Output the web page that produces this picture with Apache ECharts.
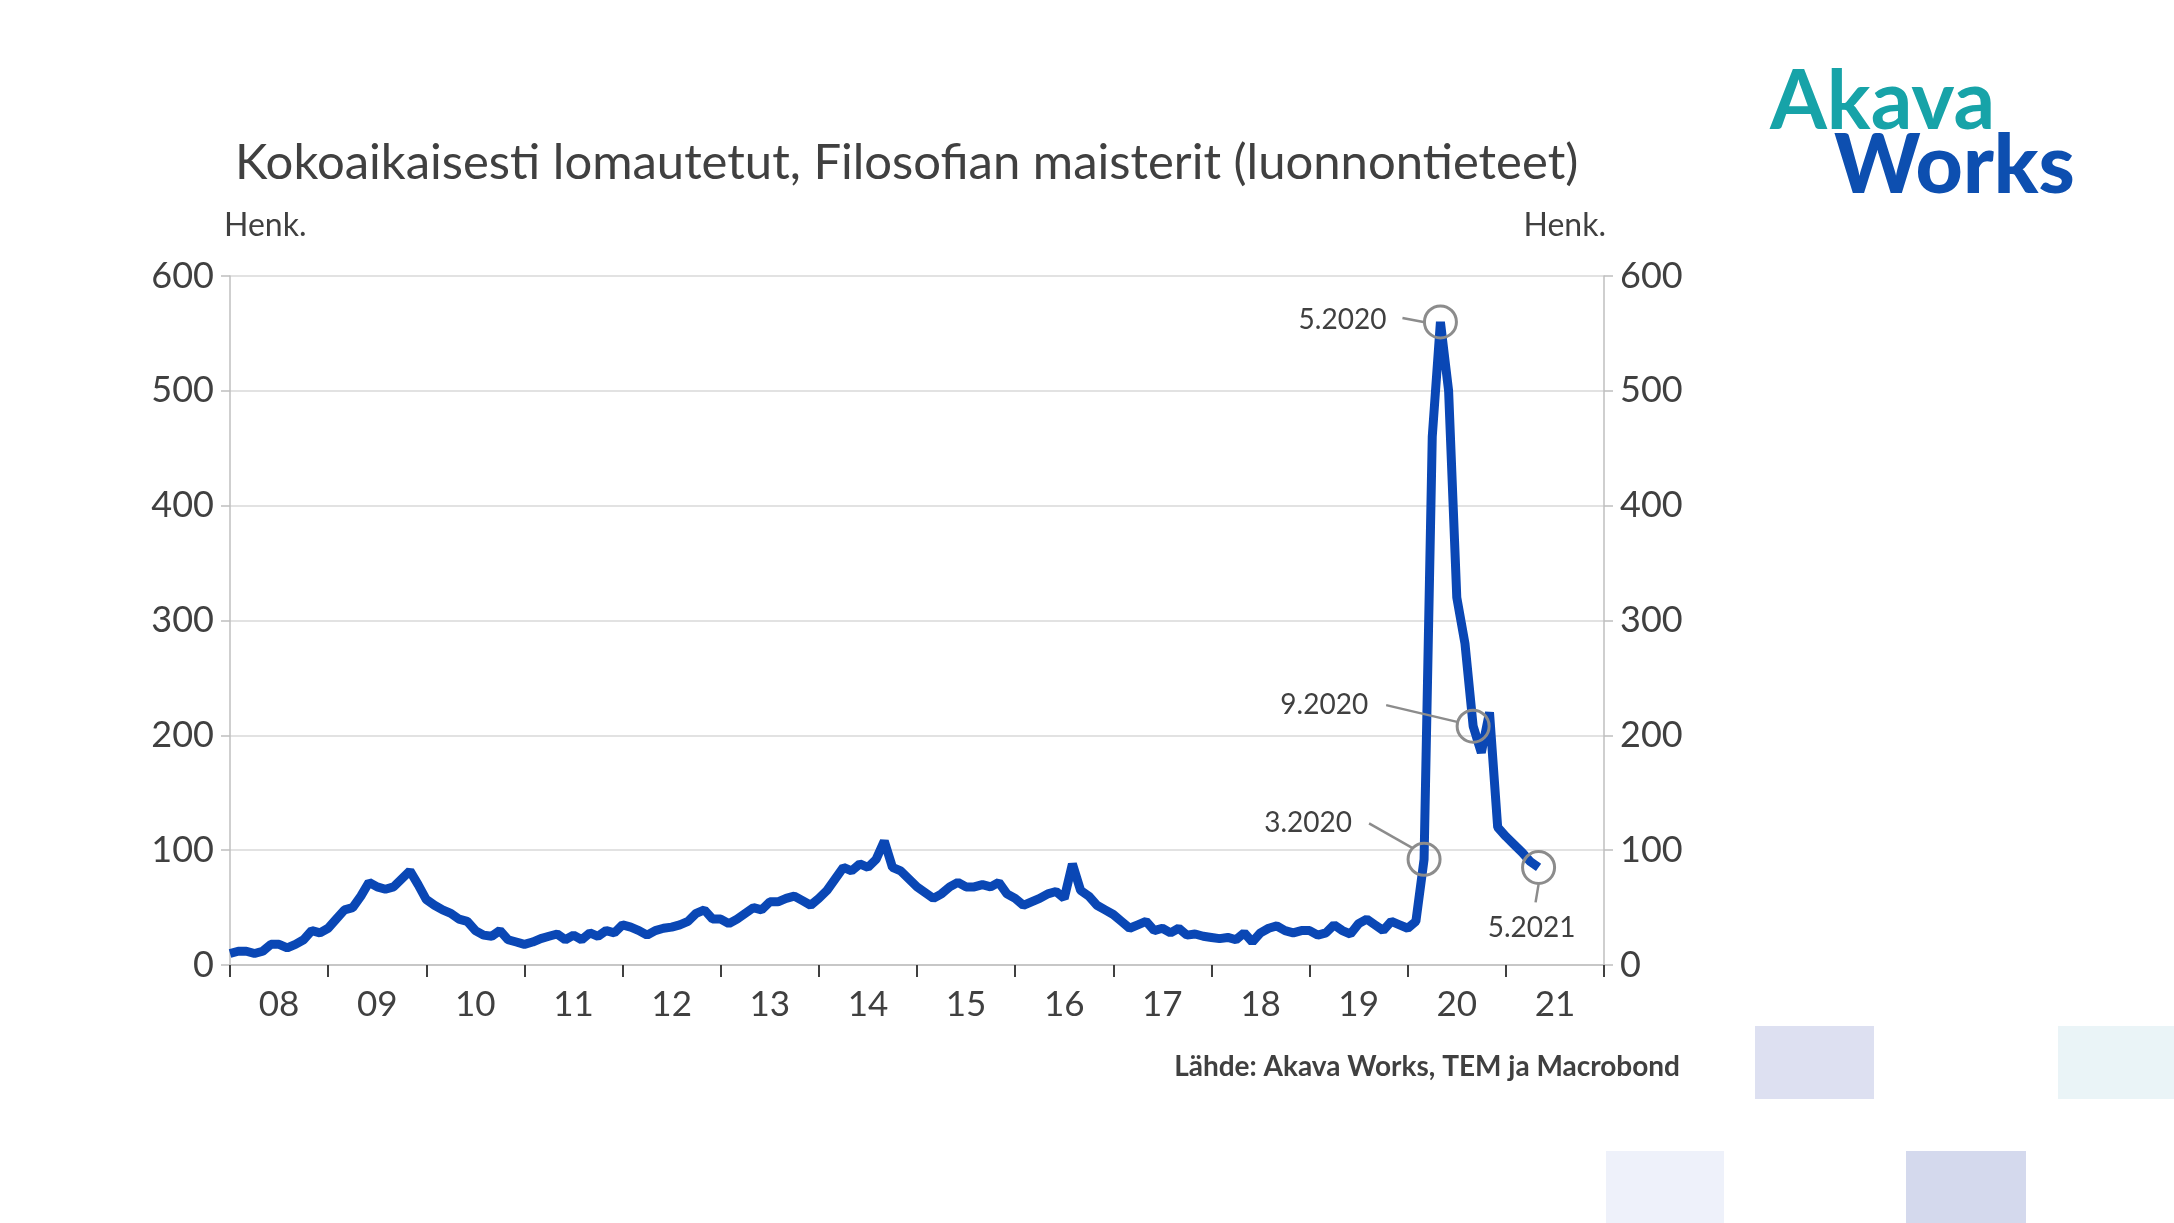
<!DOCTYPE html>
<html><head><meta charset="utf-8">
<script src="https://cdn.jsdelivr.net/npm/echarts@6/dist/echarts.min.js"></script>
<style>html,body{margin:0;padding:0;background:#fff}#c{width:2174px;height:1223px}</style>
</head><body><div id="c"></div>
<script>
const startYear = 2008;
const yearLabels = ['08','09','10','11','12','13','14','15','16','17','18','19','20','21'];
const values = [
 10,12,12,10,12,18,18,15,18,22,30,28,
 32,40,48,50,60,72,68,66,68,75,82,70,
 57,52,48,45,40,38,30,26,25,30,22,20,
 18,20,23,25,27,22,26,22,28,25,30,28,
 35,33,30,26,30,32,33,35,38,45,48,40,
 40,36,40,45,50,48,55,55,58,60,56,52,
 58,65,75,85,82,88,85,92,108,85,82,75,
 68,63,58,62,68,72,68,68,70,68,72,62,
 58,52,55,58,62,64,58,88,65,60,52,48,
 44,38,32,35,38,30,32,28,32,26,27,25,
 24,23,24,22,28,20,28,32,34,30,28,30,
 30,26,28,35,30,27,36,40,35,30,38,35,
 32,38,92,460,560,500,320,280,208,185,220,120,
 112,105,98,90,85
];
const annotations = [
 {label:'3.2020', month:'2020-03'},
 {label:'5.2020', month:'2020-05'},
 {label:'9.2020', month:'2020-09'},
 {label:'5.2021', month:'2021-05'}
];
const months = [];
for (let y = startYear; y <= 2022; y++) for (let m = 1; m <= 12; m++) {
  if (y === 2022 && m > 1) break;
  months.push(y + '-' + String(m).padStart(2,'0'));
}
const FONT = 'Lato';
const TXT = '#404040';
const chart = echarts.init(document.getElementById('c'));
const yAxisCommon = {
  type:'value', min:0, max:600, interval:100,
  axisLine:{show:true, lineStyle:{color:'#bfbfbf', width:1.5}},
  axisTick:{show:true, length:9, lineStyle:{color:'#bfbfbf', width:1.5}},
  axisLabel:{color:TXT, fontSize:36, fontFamily:FONT, margin:16},
  nameTextStyle:{color:TXT, fontSize:32, fontFamily:FONT}
};
chart.setOption({
  animation:false,
  title:{text:'Kokoaikaisesti lomautetut, Filosofian maisterit (luonnontieteet)', left:230, top:134,
    textStyle:{fontFamily:FONT, fontSize:49, fontWeight:'normal', color:TXT}},
  grid:{left:230, right:570, top:276, bottom:258},
  xAxis:{type:'category', data:months, boundaryGap:false,
    axisLine:{lineStyle:{color:'#bfbfbf', width:1.5}},
    axisTick:{show:true, length:12, interval:(i)=>i%12===0, lineStyle:{color:'#404040', width:2}},
    axisLabel:{interval:(i)=>i%12===6, color:TXT, fontSize:35, fontFamily:FONT, margin:22,
      formatter:(v)=>yearLabels[parseInt(v.slice(0,4))-startYear] || ''},
    splitLine:{show:false}},
  yAxis:[
    Object.assign({}, yAxisCommon, {position:'left', name:'Henk.', nameLocation:'end', nameGap:34,
      nameTextStyle:Object.assign({}, yAxisCommon.nameTextStyle, {align:'left', padding:[0,0,0,-6]}),
      splitLine:{show:true, lineStyle:{color:'#d9d9d9', width:1.5}}}),
    Object.assign({}, yAxisCommon, {position:'right', name:'Henk.', nameLocation:'end', nameGap:34,
      nameTextStyle:Object.assign({}, yAxisCommon.nameTextStyle, {align:'right', padding:[0,-2,0,0]}),
      splitLine:{show:false}})
  ],
  series:[{type:'line', data:values, showSymbol:false, lineStyle:{color:'#0a47b5', width:9}, itemStyle:{color:'#0a47b5'}}],
  graphic:[
    {type:'text', right:494, top:1053, style:{text:'Lähde: Akava Works, TEM ja Macrobond', font:'bold 28px '+FONT, fill:TXT}},
    {type:'text', left:1770, top:62, style:{text:'Akava', font:'bold 82px '+FONT, fill:'#17a3a8'}},
    {type:'text', left:1834, top:126, style:{text:'Works', font:'900 82px '+FONT, fill:'#0d4fb0'}},
    {type:'rect', shape:{x:1755,y:1026,width:119,height:73}, style:{fill:'#dde0f1'}},
    {type:'rect', shape:{x:2058,y:1026,width:116,height:73}, style:{fill:'#eaf4f7'}},
    {type:'rect', shape:{x:1606,y:1151,width:118,height:72}, style:{fill:'#eef1fa'}},
    {type:'rect', shape:{x:1906,y:1151,width:120,height:72}, style:{fill:'#d4d9ed'}}
  ]
});
const layout = {
 '3.2020':{lx:-72, ly:-36, align:'right', l:[-55,-36,-11,-11]},
 '5.2020':{lx:-54, ly:-2, align:'right', l:[-38,-4,-17,0]},
 '9.2020':{lx:-105, ly:-21, align:'right', l:[-87,-21,-15,-4]},
 '5.2021':{lx:-7, ly:61, align:'center', l:[0,17,-3,35]}
};
const g = chart.getOption().graphic[0].elements.slice();
annotations.forEach(a => {
  const idx = months.indexOf(a.month);
  const [cx, cy] = chart.convertToPixel({seriesIndex:0}, [idx, values[idx]]);
  const L = layout[a.label];
  g.push({type:'circle', shape:{cx, cy, r:16}, style:{fill:'none', stroke:'#8c8c8c', lineWidth:3}, z:10});
  g.push({type:'line', shape:{x1:cx+L.l[0], y1:cy+L.l[1], x2:cx+L.l[2], y2:cy+L.l[3]}, style:{stroke:'#8c8c8c', lineWidth:2.5}, z:10});
  g.push({type:'text', x:cx+L.lx, y:cy+L.ly, style:{text:a.label, font:'28px '+FONT, fill:TXT, align:L.align, verticalAlign:'middle'}, z:10});
});
chart.setOption({graphic:g}, {replaceMerge:['graphic']});
</script></body></html>
